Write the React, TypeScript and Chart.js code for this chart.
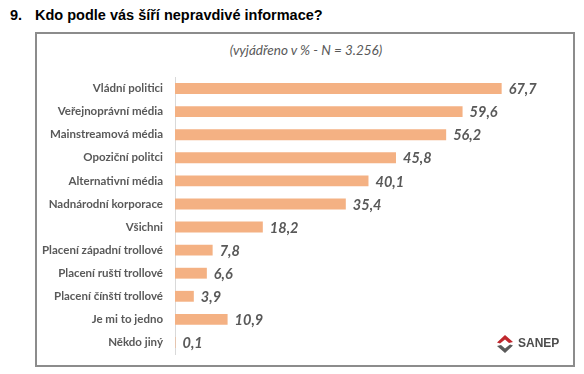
import React, { useEffect, useRef } from "react";
import { Chart, registerables } from "chart.js";

Chart.register(...registerables);

const categories = [
  "Vládní politici",
  "Veřejnoprávní média",
  "Mainstreamová média",
  "Opoziční politci",
  "Alternativní média",
  "Nadnárodní korporace",
  "Všichni",
  "Placení západní trollové",
  "Placení ruští trollové",
  "Placení čínští trollové",
  "Je mi to jedno",
  "Někdo jiný",
];

const values = [67.7, 59.6, 56.2, 45.8, 40.1, 35.4, 18.2, 7.8, 6.6, 3.9, 10.9, 0.1];

const titleNumber = "9.";
const titleText = "Kdo podle vás šíří nepravdivé informace?";
const subtitleText = "(vyjádřeno v % - N = 3.256)";

const valueLabels = {
  id: "valueLabels",
  afterDatasetsDraw(chart: any) {
    const ctx = chart.ctx;
    const meta = chart.getDatasetMeta(0);
    ctx.save();
    ctx.font = "italic bold 14.5px Lato, 'Open Sans', sans-serif";
    ctx.fillStyle = "#595959";
    ctx.textAlign = "left";
    ctx.textBaseline = "middle";
    meta.data.forEach((bar: any, i: number) => {
      const v = chart.data.datasets[0].data[i] as number;
      ctx.fillText(v.toFixed(1).replace(".", ","), bar.x + 7, bar.y + 1);
    });
    ctx.restore();
  },
};

export default function App() {
  const ref = useRef<HTMLCanvasElement>(null);

  useEffect(() => {
    if (!ref.current) return;
    const chart = new Chart(ref.current, {
      type: "bar",
      data: {
        labels: categories,
        datasets: [
          {
            data: values,
            backgroundColor: "#F4B183",
            borderWidth: 0,
            barPercentage: 0.47,
            categoryPercentage: 1,
          },
        ],
      },
      options: {
        indexAxis: "y",
        animation: false,
        responsive: false,
        maintainAspectRatio: false,
        layout: { padding: { top: 77, bottom: 20, left: 36, right: 23 } },
        plugins: {
          legend: { display: false },
          tooltip: { enabled: false },
          title: { display: false },
        },
        scales: {
          x: {
            display: false,
            min: 0,
            max: 80,
          },
          y: {
            afterFit: (scale: any) => {
              scale.width = 139;
            },
            grid: { display: false, drawTicks: false },
            border: { display: true, color: "#d9d9d9", width: 1 },
            ticks: {
              padding: 12,
              color: "#595959",
              font: { family: "Lato, 'Open Sans', sans-serif", size: 11.5, weight: "bold" },
            },
          },
        },
      },
      plugins: [valueLabels],
    });
    return () => chart.destroy();
  }, []);

  return (
    <div
      style={{
        position: "fixed",
        left: 0,
        top: 0,
        width: 584,
        height: 374,
        background: "#fff",
        overflow: "hidden",
      }}
    >
      <div
        style={{
          position: "absolute",
          left: 10,
          top: 6,
          font: "bold 14.5px 'Liberation Sans', Arial, sans-serif",
          lineHeight: "18px",
          color: "#000",
          whiteSpace: "nowrap",
        }}
      >
        {titleNumber}
      </div>
      <div
        style={{
          position: "absolute",
          left: 35,
          top: 6,
          font: "bold 14.5px 'Liberation Sans', Arial, sans-serif",
          lineHeight: "18px",
          color: "#000",
          whiteSpace: "nowrap",
        }}
      >
        {titleText}
      </div>
      <div
        style={{
          position: "absolute",
          left: 35,
          top: 32,
          width: 540,
          height: 335,
          border: "2px solid #8c8c8c",
          boxSizing: "border-box",
        }}
      />
      <div
        style={{
          position: "absolute",
          left: 36,
          top: 42,
          width: 540,
          textAlign: "center",
          font: "italic 13.5px Lato, 'Open Sans', sans-serif",
          lineHeight: "16px",
          color: "#595959",
          whiteSpace: "nowrap",
        }}
      >
        {subtitleText}
      </div>
      <canvas
        ref={ref}
        width={584}
        height={374}
        style={{ position: "absolute", left: 0, top: 0, width: 584, height: 374 }}
      />
      <svg
        style={{ position: "absolute", left: 495, top: 335 }}
        width={20}
        height={18}
        viewBox="0 0 20 18"
      >
        <path d="M10 0 L18 7 L14 8 L10 4.5 L5 8.5 L2 7.5 Z" fill="#c0272d" />
        <path d="M10 18 L2 11 L6 10 L10 13.5 L15 9.5 L18 10.5 Z" fill="#5a5a5a" />
      </svg>
      <div
        style={{
          position: "absolute",
          left: 518,
          top: 336,
          font: "bold 12px 'Liberation Sans', Arial, sans-serif",
          lineHeight: "14px",
          color: "#4d4d4d",
          whiteSpace: "nowrap",
        }}
      >
        SANEP
      </div>
    </div>
  );
}
